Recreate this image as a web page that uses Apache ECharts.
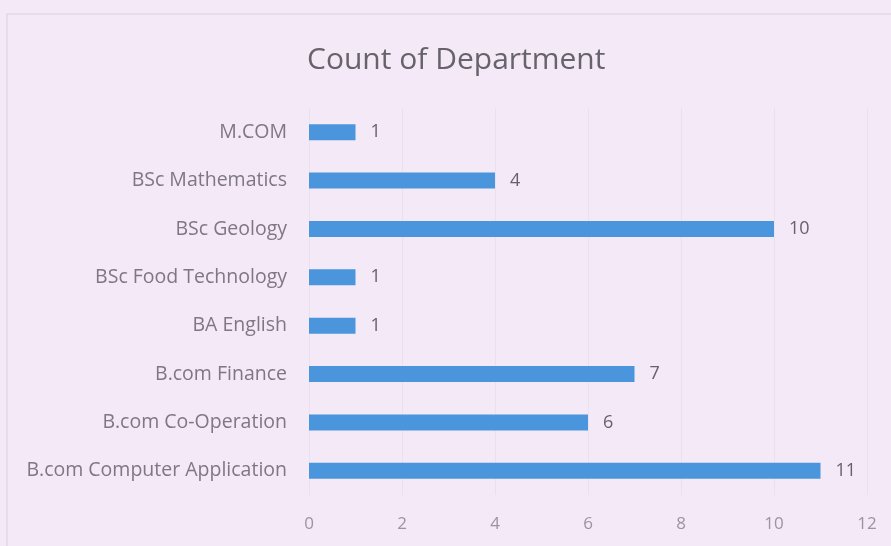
<!DOCTYPE html>
<html>
<head>
<meta charset="utf-8">
<script src="https://cdn.jsdelivr.net/npm/echarts@6/dist/echarts.min.js"></script>
<style>
  html, body { margin: 0; padding: 0; background: #f4e9f6; }
  #chart { width: 891px; height: 546px; }
</style>
</head>
<body>
<div id="chart"></div>
<script>
// departments, bottom to top as ECharts lays out a category y axis
const departments = [
  "B.com Computer Application",
  "B.com Co-Operation",
  "B.com Finance",
  "BA English",
  "BSc Food Technology",
  "BSc Geology",
  "BSc Mathematics",
  "M.COM",
];
const counts = [11, 6, 7, 1, 1, 10, 4, 1];

const chart = echarts.init(document.getElementById("chart"));
chart.setOption({
  backgroundColor: "#f4e9f6",
  textStyle: { fontFamily: "Open Sans" },
  title: {
    text: "Count of Department",
    left: 302,
    top: 40,
    textStyle: { fontSize: 30, fontWeight: "normal", color: "#67636b", fontFamily: "Open Sans" },
  },
  graphic: [
    {
      type: "rect",
      shape: { x: 7, y: 14, width: 900, height: 560 },
      style: { fill: "none", stroke: "#e3d7e6", lineWidth: 1.5 },
      silent: true,
    },
  ],
  grid: { left: 309, right: 24, top: 108, bottom: 51 },
  xAxis: {
    type: "value",
    min: 0,
    max: 12,
    interval: 2,
    axisLine: { show: false },
    axisTick: { show: false },
    axisLabel: { color: "#9a959f", fontSize: 17, margin: 21 },
    splitLine: { lineStyle: { color: "#ebe1ee", width: 1 } },
  },
  yAxis: {
    type: "category",
    data: departments,
    axisLine: { show: false },
    axisTick: { show: false },
    axisLabel: { color: "#7d7883", fontSize: 19.5, margin: 22 },
  },
  series: [
    {
      type: "bar",
      data: counts,
      barWidth: 16,
      itemStyle: { color: "#4b95dc" },
      label: {
        show: true,
        position: "right",
        distance: 15,
        color: "#66626a",
        fontSize: 18,
      },
    },
  ],
});
</script>
</body>
</html>
